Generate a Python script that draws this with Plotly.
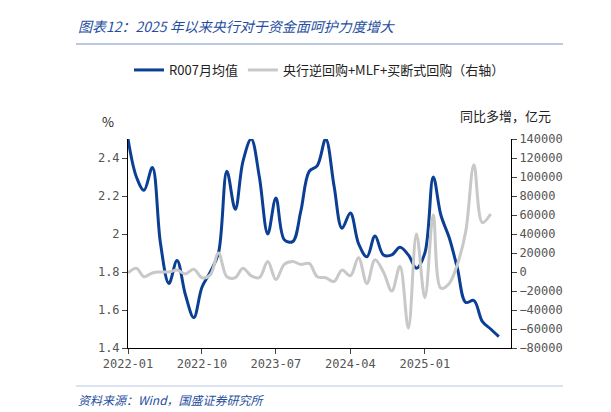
import pandas as pd
import plotly.graph_objects as go

months = pd.date_range("2022-01-01", periods=46, freq="MS")
r007 = [2.50, 2.30, 2.23, 2.35, 1.95, 1.74, 1.86, 1.68, 1.56, 1.72, 1.80, 1.90,
        2.33, 2.13, 2.38, 2.50, 2.30, 2.00, 2.19, 1.97, 1.96, 2.12, 2.33, 2.36,
        2.50, 2.25, 2.03, 2.11, 1.95, 1.88, 1.99, 1.89, 1.89, 1.93, 1.89, 1.82,
        1.90, 2.30, 2.10, 1.98, 1.82, 1.64, 1.65, 1.54, 1.50, 1.46]
pboc = [-1000, 4000, -5000, -1000, 0, 0, 2000, -2000, 3000, -6000, -3000, 20000,
        -5000, -6000, 4000, -4000, -6000, 11000, -8000, 8000, 11000, 8000, 9000, -5000,
        -6000, -10000, 2000, -4000, 15000, -12000, 13000, 0, -20000, 6000, -59000, 40000,
        -27000, 60000, -17000, -12000, 8000, 43000, 113000, 52000, 61000]
xticks = ["2022-01", "2022-10", "2023-07", "2024-04", "2025-01"]

# plot area in pixels: x 120..503, y 131..340
L, R, T, B = 120, 503, 131, 340


def px_x(x):
    return (x - L) / (R - L)


def px_y(y):
    return (B - y) / (B - T)


fig = go.Figure()
fig.add_trace(go.Scatter(x=months, y=r007, name="R007月均值", mode="lines",
                         line=dict(color="#0B3F94", width=3, shape="spline")))
fig.add_trace(go.Scatter(x=months[:len(pboc)], y=pboc, name="央行逆回购+MLF+买断式回购（右轴）",
                         mode="lines", yaxis="y2",
                         line=dict(color="#C8C8C8", width=3, shape="spline")))

axfont = dict(family="DejaVu Sans Mono, Noto Sans CJK SC", size=12, color="#555")
fig.update_layout(
    width=611, height=412, template="simple_white",
    margin=dict(l=L, r=611 - R, t=T, b=412 - B, autoexpand=False),
    font=dict(family="Noto Sans CJK SC", size=12, color="#222"),
    legend=dict(orientation="h", x=0.5, xanchor="center", y=px_y(62), yanchor="middle",
                xref="paper", yref="paper", font=dict(size=13), entrywidth=0),
    xaxis=dict(range=["2022-01-01", "2025-11-15"], tickvals=[x + "-01" for x in xticks],
               ticktext=xticks, ticks="outside", ticklen=5, tickfont=axfont,
               showline=True, linecolor="black", automargin=False),
    yaxis=dict(range=[1.4, 2.5], tickvals=[1.4, 1.6, 1.8, 2.0, 2.2, 2.4],
               ticktext=["1.4", "1.6", "1.8", "2", "2.2", "2.4"], ticks="outside",
               tickfont=axfont, showline=True, linecolor="black", automargin=False),
    yaxis2=dict(range=[-80000, 140000], dtick=20000, overlaying="y", side="right",
                ticks="outside", tickfont=axfont, showline=True, linecolor="black",
                tickformat="d", automargin=False),
)

ann = [
    ("<i>图表12：2025 年以来央行对于资金面呵护力度增大</i>", 68, 18, 14, "#1F4E9E"),
    ("%", 92, 113, 13, "#222"),
    ("同比多增，亿元", 450, 107, 13, "#222"),
    ("<i>资料来源：Wind，国盛证券研究所</i>", 68, 391, 12, "#1F4E9E"),
]
for text, x, y, size, color in ann:
    fig.add_annotation(text=text, x=px_x(x), y=px_y(y), xref="paper", yref="paper",
                       xanchor="left", yanchor="middle", showarrow=False,
                       font=dict(size=size, color=color))
for y, w in [(36, 2), (378, 1)]:
    fig.add_shape(type="line", xref="paper", yref="paper", x0=px_x(68), x1=px_x(555),
                  y0=px_y(y), y1=px_y(y), line=dict(color="#1F4E9E", width=w))

fig.write_html("out.html")
